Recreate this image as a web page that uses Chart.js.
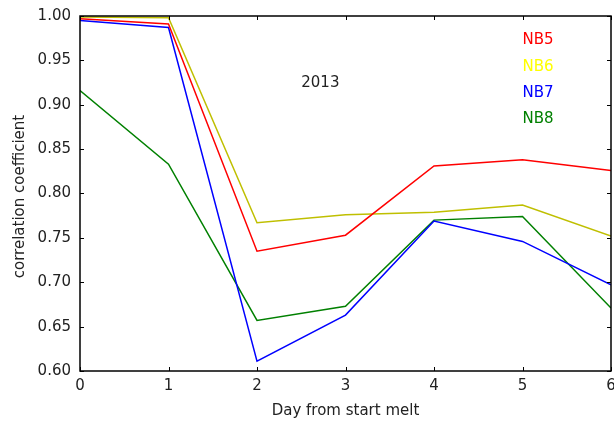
<!DOCTYPE html>
<html>
<head>
<meta charset="utf-8">
<script src="https://cdn.jsdelivr.net/npm/chart.js@4/dist/chart.umd.min.js"></script>
<style>
  html, body { margin: 0; padding: 0; background: #fff; }
  #wrap { width: 614px; height: 425px; }
</style>
</head>
<body>
<div id="wrap"><canvas id="chart" width="614" height="425"></canvas></div>
<script>
// Data
const days = [0, 1, 2, 3, 4, 5, 6];
const nb5 = [0.997, 0.991, 0.735, 0.753, 0.831, 0.838, 0.826];
const nb6 = [0.999, 0.998, 0.767, 0.776, 0.779, 0.787, 0.752];
const nb7 = [0.995, 0.987, 0.611, 0.663, 0.769, 0.746, 0.697];
const nb8 = [0.916, 0.833, 0.657, 0.673, 0.770, 0.774, 0.671];

const seriesNames = ['NB5', 'NB6', 'NB7', 'NB8'];
const lineColors = ['#ff0000', '#bfbf00', '#0000ff', '#008000'];
const labelColors = ['#ff0000', '#ffff00', '#0000ff', '#008000'];

// text annotations in data coordinates (left, baseline)
const labelX = [5, 5, 5, 5];
const labelY = [0.968, 0.938, 0.909, 0.879];
const yearText = '2013';
const yearX = 2.5;
const yearY = 0.92;

const xTitle = 'Day from start melt';
const yTitle = 'correlation coefficient';

const FONT = '"DejaVu Sans", sans-serif';
const FONT_SIZE = 15;

function points(values) {
    return days.map((d, i) => ({ x: d, y: values[i] }));
}

/**
 * Frame, inward ticks on all four sides, axis titles and text annotations
 */
const framePlugin = {
    id: 'frame',
    afterDatasetsDraw(chart) {
        const ctx = chart.ctx;
        const a = chart.chartArea;
        const xs = chart.scales.x;
        const ys = chart.scales.y;
        const tick = 4;

        ctx.save();
        ctx.strokeStyle = '#000';
        ctx.lineWidth = 1;

        xs.ticks.forEach(t => {
            const px = Math.round(xs.getPixelForValue(t.value)) + 0.5;
            ctx.beginPath();
            ctx.moveTo(px, a.bottom);
            ctx.lineTo(px, a.bottom - tick);
            ctx.moveTo(px, a.top);
            ctx.lineTo(px, a.top + tick);
            ctx.stroke();
        });
        ys.ticks.forEach(t => {
            const py = Math.round(ys.getPixelForValue(t.value)) + 0.5;
            ctx.beginPath();
            ctx.moveTo(a.left, py);
            ctx.lineTo(a.left + tick, py);
            ctx.moveTo(a.right, py);
            ctx.lineTo(a.right - tick, py);
            ctx.stroke();
        });

        ctx.lineWidth = 1.5;
        ctx.strokeRect(a.left, a.top, a.right - a.left, a.bottom - a.top);

        ctx.font = FONT_SIZE + 'px ' + FONT;
        ctx.textBaseline = 'alphabetic';
        ctx.fillStyle = '#222';

        // axis titles
        ctx.textAlign = 'center';
        ctx.fillText(xTitle, (a.left + a.right) / 2, 415);
        ctx.save();
        ctx.translate(24, (a.top + a.bottom) / 2 + 3);
        ctx.rotate(-Math.PI / 2);
        ctx.fillText(yTitle, 0, 0);
        ctx.restore();

        ctx.textAlign = 'left';
        ctx.fillText(yearText, xs.getPixelForValue(yearX), ys.getPixelForValue(yearY));

        seriesNames.forEach((name, i) => {
            ctx.fillStyle = labelColors[i];
            ctx.fillText(name, xs.getPixelForValue(labelX[i]), ys.getPixelForValue(labelY[i]));
        });
        ctx.restore();
    }
};

const datasets = [nb5, nb6, nb7, nb8].map((vals, i) => ({
    label: seriesNames[i],
    data: points(vals),
    borderColor: lineColors[i],
    backgroundColor: lineColors[i],
    borderWidth: 1.5,
    pointRadius: 0,
    tension: 0,
    fill: false
}));

new Chart(document.getElementById('chart'), {
    type: 'line',
    data: { datasets: datasets },
    options: {
        responsive: false,
        animation: false,
        layout: { padding: { top: 16, right: 3, left: 0, bottom: 0 } },
        plugins: {
            legend: { display: false },
            tooltip: { enabled: false }
        },
        scales: {
            x: {
                type: 'linear',
                min: 0,
                max: 6,
                grid: { display: false, drawTicks: false },
                border: { display: false },
                ticks: {
                    stepSize: 1,
                    padding: 6,
                    color: '#222',
                    font: { family: FONT, size: FONT_SIZE }
                },
                afterFit(scale) {
                    scale.height = 54;
                    scale.paddingLeft = 0;
                    scale.paddingRight = 0;
                }
            },
            y: {
                min: 0.6,
                max: 1.0,
                grid: { display: false, drawTicks: false },
                border: { display: false },
                ticks: {
                    stepSize: 0.05,
                    padding: 9,
                    color: '#222',
                    font: { family: FONT, size: FONT_SIZE },
                    callback: v => v.toFixed(2)
                },
                afterFit(scale) {
                    scale.width = 80;
                    scale.paddingTop = 0;
                    scale.paddingBottom = 0;
                }
            }
        }
    },
    plugins: [framePlugin]
});
</script>
</body>
</html>
